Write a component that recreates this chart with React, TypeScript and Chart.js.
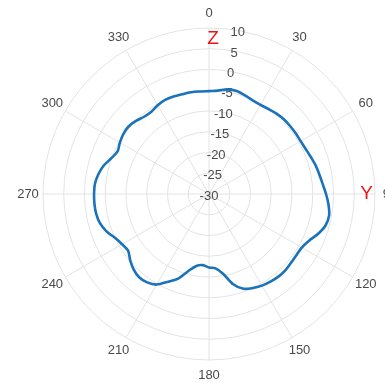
import React, { useEffect, useRef } from "react";
import { Chart, registerables } from "chart.js";

Chart.register(...registerables);

// angles in degrees (clockwise from top), step 5
const angles: number[] = [
  0, 5, 10, 15, 20, 25, 30, 35, 40, 45, 50, 55,
  60, 65, 70, 75, 80, 85, 90, 95, 100, 105, 110, 115,
  120, 125, 130, 135, 140, 145, 150, 155, 160, 165, 170, 175,
  180, 185, 190, 195, 200, 205, 210, 215, 220, 225, 230, 235,
  240, 245, 250, 255, 260, 265, 270, 275, 280, 285, 290, 295,
  300, 305, 310, 315, 320, 325, 330, 335, 340, 345, 350, 355,
];

// gain values (dB)
const gain: number[] = [
  -5.2, -5.0, -4.4, -4.3, -4.7, -5.1, -5.2, -5.0, -4.7, -4.5, -4.5, -4.5,
  -4.5, -4.3, -3.9, -3.4, -3.0, -2.5, -1.8, -1.1, -0.6, -0.9, -2.0, -3.4,
  -4.2, -4.3, -4.2, -4.0, -4.0, -4.2, -4.5, -5.0, -5.7, -7.5, -10.5, -12.0,
  -12.3, -12.8, -12.4, -10.8, -8.3, -6.7, -4.8, -4.0, -3.8, -4.3, -5.2, -6.2,
  -5.8, -5.0, -3.7, -2.8, -2.4, -2.3, -2.3, -2.4, -2.9, -3.7, -4.9, -5.7,
  -5.2, -4.8, -4.7, -5.1, -5.7, -5.8, -5.3, -5.0, -5.0, -5.1, -5.1, -5.2,
];

const angleTickLabels: number[] = [0, 30, 60, 90, 120, 150, 180, 210, 240, 270, 300, 330];
const rMin = -30;
const rMax = 10;
const rStep = 5;
const rLabelAngle = 10; // degrees at which radial tick labels sit
const axisNames: { text: string; angle: number; value: number; dx: number }[] = [
  { text: "Z", angle: 0, value: 7.5, dx: 4 },
  { text: "Y", angle: 90, value: 8.0, dx: 0 },
];

const FONT = '"Liberation Sans", Arial, sans-serif';

const labelPlugin = {
  id: "polarLabels",
  beforeDatasetsDraw(chart: any) {
    const scale = chart.scales.r;
    const ctx = chart.ctx;
    ctx.save();
    ctx.font = `13px ${FONT}`;
    ctx.fillStyle = "#4a4a4a";
    ctx.textAlign = "center";
    ctx.textBaseline = "middle";
    const idx = angles.indexOf(rLabelAngle);
    scale.ticks.forEach((t: any) => {
      const p = scale.getPointPositionForValue(idx, t.value);
      ctx.fillText(String(t.value), p.x, p.y + 2);
    });
    ctx.restore();
  },
  afterDraw(chart: any) {
    const scale = chart.scales.r;
    const ctx = chart.ctx;
    ctx.save();
    ctx.font = `13px ${FONT}`;
    ctx.fillStyle = "#4a4a4a";
    ctx.textAlign = "center";
    ctx.textBaseline = "middle";
    angleTickLabels.forEach((a) => {
      const i = angles.indexOf(a);
      const p = scale.getPointPosition(i, scale.drawingArea + 15);
      ctx.fillText(String(a), p.x, p.y);
    });
    ctx.font = `19px ${FONT}`;
    ctx.fillStyle = "#ee1111";
    axisNames.forEach((n) => {
      const i = angles.indexOf(n.angle);
      const p = scale.getPointPositionForValue(i, n.value);
      ctx.fillText(n.text, p.x + n.dx, p.y);
    });
    ctx.restore();
  },
};

export default function App() {
  const ref = useRef<HTMLCanvasElement | null>(null);
  useEffect(() => {
    if (!ref.current) return;
    const chart = new Chart(ref.current, {
      type: "radar",
      data: {
        labels: angles.map(String),
        datasets: [
          {
            data: gain,
            borderColor: "#1a72bb",
            borderWidth: 2.6,
            backgroundColor: "transparent",
            fill: false,
            pointRadius: 0,
            tension: 0.3,
          },
        ],
      },
      options: {
        responsive: false,
        animation: false,
        devicePixelRatio: 1,
        layout: { padding: { left: 43, top: 28, right: 10, bottom: 23 } },
        plugins: { legend: { display: false }, tooltip: { enabled: false } },
        scales: {
          r: {
            min: rMin,
            max: rMax,
            ticks: { stepSize: rStep, display: false },
            pointLabels: { display: false },
            grid: { circular: true, color: "#e3e3e3", lineWidth: 1 },
            angleLines: {
              display: true,
              color: "#e3e3e3",
              lineWidth: (c: any) => (angles[c.index] % 30 === 0 ? 1 : 0),
            },
          },
        },
      },
      plugins: [labelPlugin],
    });
    return () => chart.destroy();
  }, []);
  return (
    <div
      style={{
        position: "fixed",
        left: 0,
        top: 0,
        width: 385,
        height: 383,
        overflow: "hidden",
        background: "#fff",
      }}
    >
      <canvas ref={ref} width={385} height={383} />
    </div>
  );
}
